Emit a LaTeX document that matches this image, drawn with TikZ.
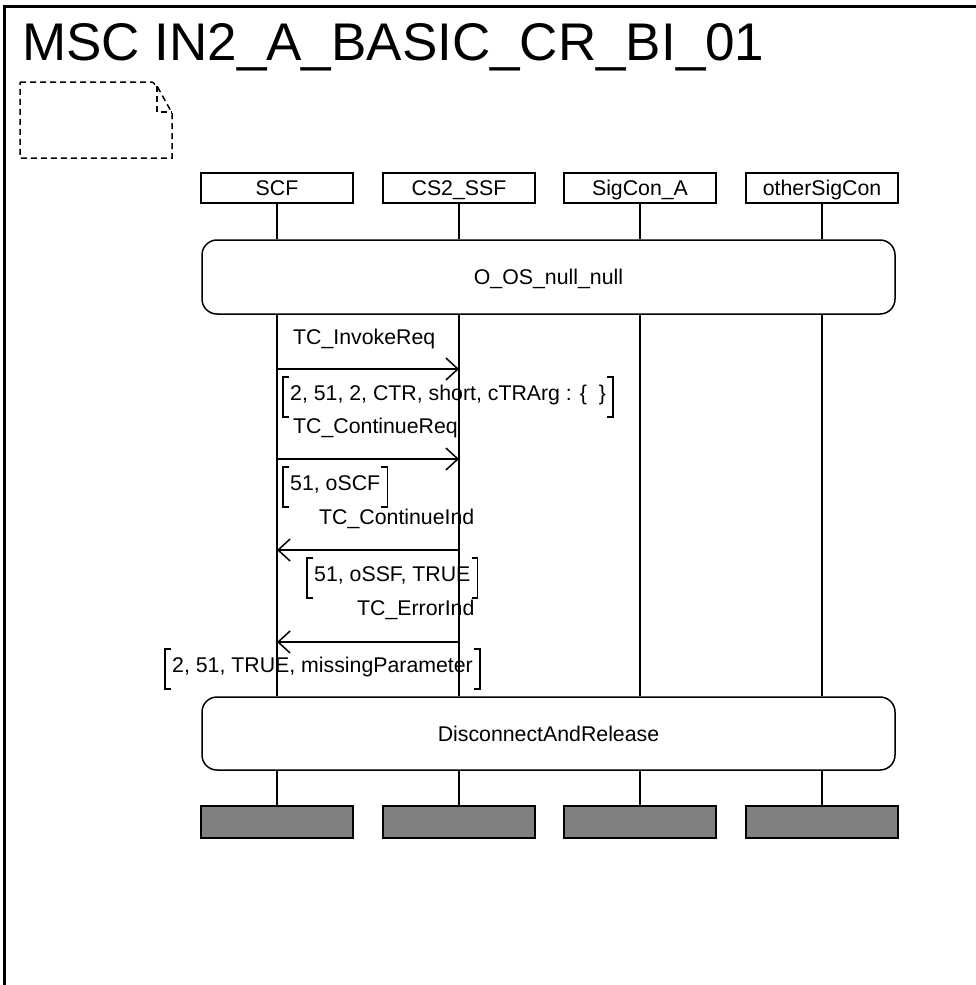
\documentclass[tikz,border=0pt]{standalone}
\usepackage{fontspec}
\setmainfont{Liberation Sans}
\usetikzlibrary{arrows.meta}
\begin{document}
\begin{tikzpicture}[x=1pt,y=-1pt,
  every node/.style={font=\fontsize{21.3}{25}\selectfont},
  frame/.style={line width=3pt},
  inst/.style={draw,line width=1.5pt,minimum width=152pt,minimum height=30pt,inner sep=0pt,text height=15pt,text depth=0pt},
  endbox/.style={draw,line width=1.5pt,fill={rgb,255:red,128;green,128;blue,128},minimum width=152pt,minimum height=32pt,inner sep=0pt},
  refbox/.style={draw,line width=1.5pt,rounded corners=15pt,minimum width=693pt,inner sep=0pt,text height=15pt,text depth=0pt},
  life/.style={line width=1.5pt},
  msg/.style={line width=1.5pt,-{Straight Barb[length=12pt,width=22pt,line width=1.5pt]}},
  lbl/.style={anchor=base west,inner sep=0pt},
  param/.style={anchor=base west,inner ysep=0pt,inner xsep=7pt,text height=23pt,text depth=17pt},
  brk/.style={line width=1.5pt},
  note/.style={line width=1.5pt,dash pattern=on 6pt off 4pt}
]
\useasboundingbox (0,0) rectangle (976,985);
% frame
\draw[frame] (976,6) -- (4,6) -- (4,985);
\node[anchor=base west,inner sep=0pt,font=\fontsize{53}{60}\selectfont] (title) at (22,60) {MSC IN2\_A\_BASIC\_CR\_BI\_01};
% note
\draw[note] (20,82) -- (152,82) to[out=0,in=240] (157,86) -- (172,113) -- (172,158) -- (20,158) -- cycle;
\draw[note] (157,86) -- (157,112) -- (172,112);
% instance heads
\node[inst] (h1) at (277,188) {SCF};
\node[inst] (h2) at (459,188) {CS2\_SSF};
\node[inst] (h3) at (640,188) {SigCon\_A};
\node[inst] (h4) at (822,188) {otherSigCon};
% references
\node[refbox,minimum height=74pt] (r1) at (548.5,277) {O\_OS\_null\_null};
\node[refbox,minimum height=73pt] (r2) at (548.5,733.5) {DisconnectAndRelease};
% end boxes
\node[endbox] (e1) at (277,822) {};
\node[endbox] (e2) at (459,822) {};
\node[endbox] (e3) at (640,822) {};
\node[endbox] (e4) at (822,822) {};
% lifelines
\foreach \i in {1,2,3,4}{
  \draw[life] (h\i.south) -- (h\i |- r1.north);
  \draw[life] (h\i |- r1.south) -- (h\i |- r2.north);
  \draw[life] (h\i |- r2.south) -- (e\i.north);
}
% messages
\coordinate (m1a) at (277,369); \coordinate (m1b) at (459,369);
\coordinate (m2a) at (277,459); \coordinate (m2b) at (459,459);
\coordinate (m3a) at (459,550); \coordinate (m3b) at (277,550);
\coordinate (m4a) at (459,642); \coordinate (m4b) at (277,642);
\draw[msg] (m1a) -- (m1b);
\draw[msg] (m2a) -- (m2b);
\draw[msg] (m3a) -- (m3b);
\draw[msg] (m4a) -- (m4b);
\node[lbl] (l1) at (293,344) {TC\_InvokeReq};
\node[lbl] (l2) at (293,433) {TC\_ContinueReq};
\node[lbl] (l3) at (319,524) {TC\_ContinueInd};
\node[lbl] (l4) at (357,615) {TC\_ErrorInd};
% parameters
\node[param] (p1) at (283,400) {2, 51, 2, CTR, short, cTRArg : \{\ \ \}};
\node[param] (p2) at (283,490) {51, oSCF};
\node[param] (p3) at (307,581) {51, oSSF, TRUE};
\node[param] (p4) at (165,672) {2, 51, TRUE, missingParameter};
\foreach \p in {p1,p2,p3,p4}{
  \draw[brk] ([xshift=6pt]\p.north west) -- (\p.north west) -- (\p.south west) -- ([xshift=6pt]\p.south west);
  \draw[brk] ([xshift=-6pt]\p.north east) -- (\p.north east) -- (\p.south east) -- ([xshift=-6pt]\p.south east);
}
\end{tikzpicture}
\end{document}
